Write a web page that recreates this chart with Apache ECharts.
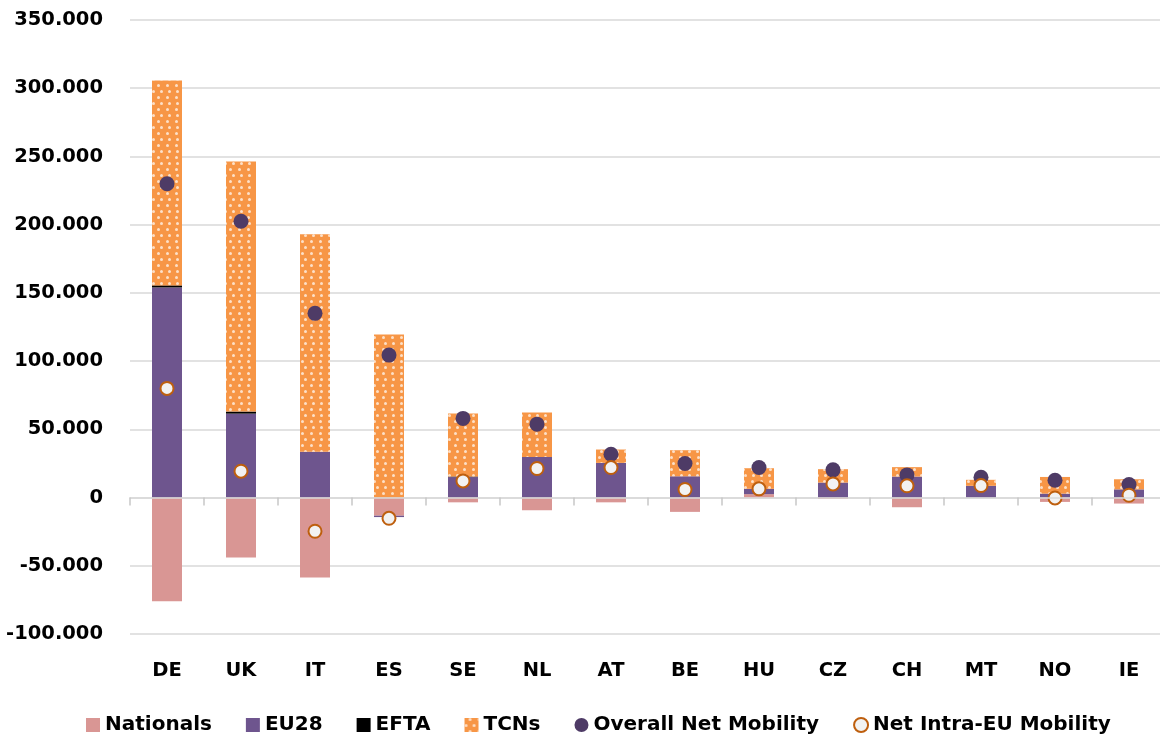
<!DOCTYPE html>
<html>
<head>
<meta charset="utf-8">
<title>Net mobility by country</title>
<script src="https://cdn.jsdelivr.net/npm/echarts@6/dist/echarts.min.js"></script>
<style>
  html, body { margin: 0; padding: 0; background: #fff; }
  #chart { width: 1160px; height: 740px; }
</style>
</head>
<body>
<div id="chart"></div>
<script>
const categories = ['DE', 'UK', 'IT', 'ES', 'SE', 'NL', 'AT', 'BE', 'HU', 'CZ', 'CH', 'MT', 'NO', 'IE'];
const nationals = [-76000, -44000, -58500, -13300, -3500, -9300, -3500, -10500, 2500, -1000, -7100, 0, -3200, -4400];
const eu28 = [154000, 61500, 33500, -1000, 15000, 29800, 25400, 15600, 3900, 11000, 15400, 8600, 2900, 6000];
const efta = [1500, 1500, 0, 0, 400, 0, 0, 0, 0, 0, 0, 0, 0, 0];
const tcns = [150200, 183300, 159500, 119500, 46200, 32600, 9800, 19100, 15100, 9800, 6900, 4400, 12200, 7400];
const overallNet = [230000, 202500, 135000, 104400, 58000, 53800, 31700, 25000, 22000, 20300, 16600, 14800, 12700, 9500];
const intraEU = [80000, 19300, -24700, -15200, 12200, 21300, 22000, 5900, 6400, 10000, 8600, 8800, -300, 1700];

const FONT = 'DejaVu Sans';
const AXIS_TEXT = { fontFamily: FONT, fontWeight: 'bold', fontSize: 19.5, color: '#000' };
const GRID_GREY = '#D9D9D9';

function fmt(v) {
  if (v === 0) return '0';
  const s = String(Math.abs(v)).replace(/\B(?=(\d{3})+(?!\d))/g, '.');
  return (v < 0 ? '-' : '') + s;
}

const chart = echarts.init(document.getElementById('chart'));

// white dot pattern on the TCN bars
const dots = {
  symbol: 'circle',
  symbolSize: 1,
  color: 'rgba(255,255,255,0.7)',
  dashArrayX: [[2.5, 5], [0, 3.75, 2.5, 1.25]],
  dashArrayY: [2.5, 2.3]
};

function barSeries(name, data, style) {
  return {
    name: name,
    type: 'bar',
    stack: 'total',
    barWidth: 30,
    data: data,
    itemStyle: style,
    emphasis: { disabled: true }
  };
}

const gridBox = { left: 130, top: 20, width: 1036, height: 614, containLabel: false, outerBoundsMode: 'none' };
const yRange = { type: 'value', min: -100000, max: 350000, interval: 50000 };

const option = {
  animation: false,
  backgroundColor: '#fff',
  // grid 0 holds the data, grid 1 (same box) only carries the country labels
  grid: [Object.assign({}, gridBox), Object.assign({}, gridBox)],
  legend: {
    top: 715,
    left: 86,
    padding: 0,
    itemWidth: 14,
    itemHeight: 14,
    itemGap: 34,
    textStyle: { fontFamily: FONT, fontWeight: 'bold', fontSize: 20, color: '#000' },
    data: [
      { name: 'Nationals', icon: 'rect' },
      { name: 'EU28', icon: 'rect' },
      { name: 'EFTA', icon: 'rect' },
      { name: 'TCNs', icon: 'rect' },
      { name: 'Overall Net Mobility', icon: 'circle' },
      { name: 'Net Intra-EU Mobility', icon: 'circle' }
    ]
  },
  xAxis: [
    {
      gridIndex: 0,
      type: 'category',
      data: categories,
      z: 10,
      axisLine: { show: true, onZero: true, lineStyle: { color: GRID_GREY, width: 1.5 } },
      axisTick: { show: true, interval: 0, length: 8, lineStyle: { color: '#C8C8C8', width: 1.5 } },
      axisLabel: { show: false, interval: 0 },
      splitLine: { show: false }
    },
    {
      gridIndex: 1,
      type: 'category',
      data: categories,
      axisLine: { show: false, onZero: false },
      axisTick: { show: false },
      axisLabel: Object.assign({ margin: 27, interval: 0 }, AXIS_TEXT),
      splitLine: { show: false }
    }
  ],
  yAxis: [
    Object.assign({
      gridIndex: 0,
      axisLine: { show: false },
      axisTick: { show: false },
      axisLabel: Object.assign({ margin: 27, formatter: fmt }, AXIS_TEXT),
      splitLine: { lineStyle: { color: GRID_GREY, width: 1.5 } }
    }, yRange),
    Object.assign({ gridIndex: 1, show: false, splitLine: { show: false } }, yRange)
  ],
  series: [
    barSeries('Nationals', nationals, { color: '#D99694' }),
    barSeries('EU28', eu28, { color: '#6E558E' }),
    barSeries('EFTA', efta, { color: '#000000' }),
    barSeries('TCNs', tcns, { color: '#F79646', decal: dots }),
    {
      name: 'Overall Net Mobility',
      type: 'scatter',
      data: overallNet,
      symbolSize: 15,
      itemStyle: { color: '#4E3B66', opacity: 1 },
      z: 5
    },
    {
      name: 'Net Intra-EU Mobility',
      type: 'scatter',
      data: intraEU,
      symbolSize: 13,
      itemStyle: { color: '#F2F2F2', borderColor: '#BE5F0E', borderWidth: 2, opacity: 1 },
      z: 6
    }
  ]
};

chart.setOption(option);
</script>
</body>
</html>
